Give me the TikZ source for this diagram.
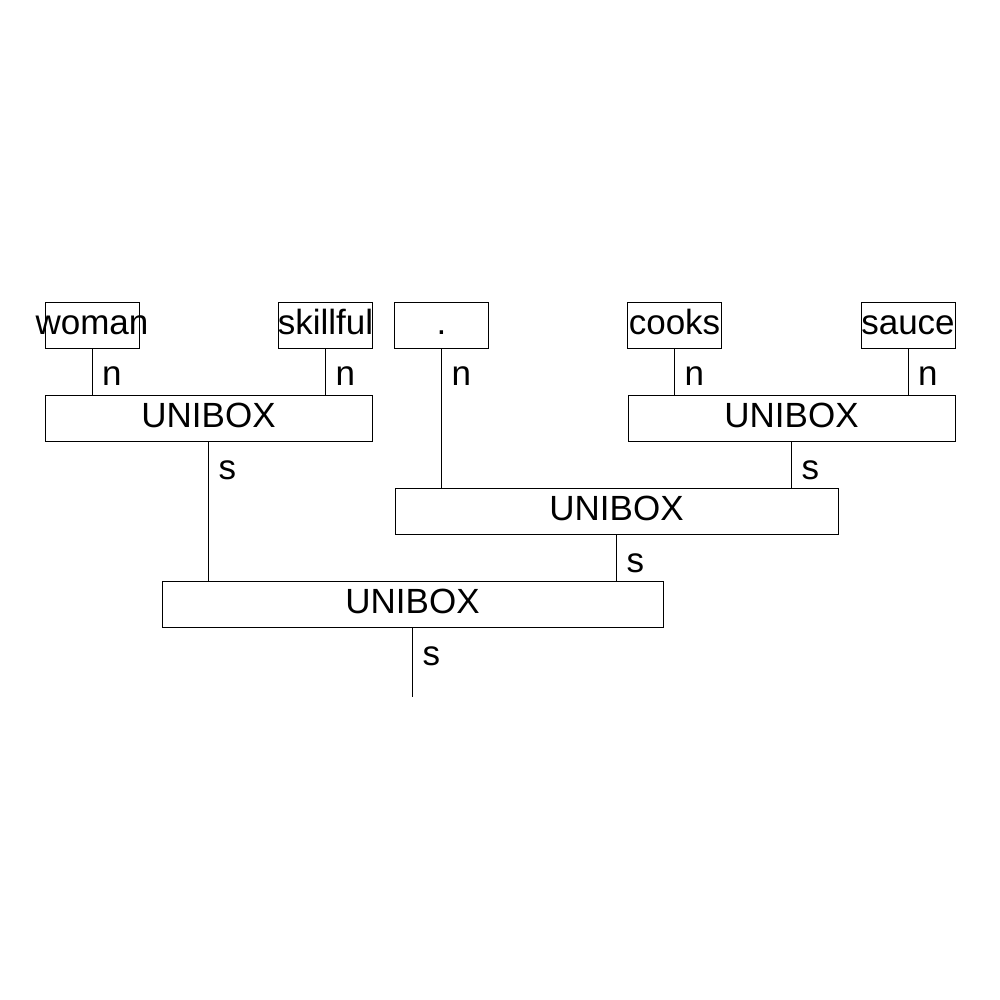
\documentclass[tikz,border=0pt]{standalone}
\usepackage{fontspec}
\setmainfont{Liberation Sans}
\usetikzlibrary{calc}
% word boxes keep their size; long words run over the frame
\newcommand{\wordtext}[1]{\makebox[0pt][c]{#1}}
\begin{document}
\begin{tikzpicture}[x=0.5pt,y=-0.5pt,line width=0.5pt,
  every node/.style={font=\fontsize{17.5}{21}\selectfont, inner sep=0pt},
  word/.style={draw, minimum width=47pt, minimum height=23pt,
               text height=9pt, text depth=0pt},
  unibox/.style={draw, minimum height=23pt, text height=9pt, text depth=0pt},
  edgelabel/.style={anchor=base west}]
  \useasboundingbox (0,0) rectangle (1000,1000);

  % leaf words
  \node[word] (woman)    at (92,325)    {\wordtext{woman}};
  \node[word] (skillful) at (325.5,325) {\wordtext{skillful}};
  \node[word] (dot)      at (441.5,325) {\wordtext{.}};
  \node[word] (cooks)    at (674.5,325) {\wordtext{cooks}};
  \node[word] (sauce)    at (908,325)   {\wordtext{sauce}};

  % combining boxes
  \node[unibox, minimum width=163.5pt] (u1) at (208.5,418.5) {UNIBOX};
  \node[unibox, minimum width=163.5pt] (u2) at (791.5,418.5) {UNIBOX};
  \node[unibox, minimum width=221.5pt] (u3) at (616.5,511.5) {UNIBOX};
  \node[unibox, minimum width=250.5pt] (u4) at (412.5,604.5) {UNIBOX};
  \coordinate (root) at (412.5,697);

  % connectors
  \draw (woman.south)    -- (woman.south |- u1.north);
  \draw (skillful.south) -- (skillful.south |- u1.north);
  \draw (cooks.south)    -- (cooks.south |- u2.north);
  \draw (sauce.south)    -- (sauce.south |- u2.north);
  \draw (dot.south)      -- (dot.south |- u3.north);
  \draw (u2.south)       -- (u2.south |- u3.north);
  \draw (u1.south)       -- (u1.south |- u4.north);
  \draw (u3.south)       -- (u3.south |- u4.north);
  \draw (u4.south)       -- (root);

  % category labels
  \node[edgelabel] (lwoman)    at ($(woman.south)+(9.5,37)$)    {n};
  \node[edgelabel] (lskillful) at ($(skillful.south)+(9.5,37)$) {n};
  \node[edgelabel] (ldot)      at ($(dot.south)+(9.5,37)$)      {n};
  \node[edgelabel] (lcooks)    at ($(cooks.south)+(9.5,37)$)    {n};
  \node[edgelabel] (lsauce)    at ($(sauce.south)+(9.5,37)$)    {n};
  \node[edgelabel] (lu1)       at ($(u1.south)+(9.5,37)$)       {s};
  \node[edgelabel] (lu2)       at ($(u2.south)+(9.5,37)$)       {s};
  \node[edgelabel] (lu3)       at ($(u3.south)+(9.5,37)$)       {s};
  \node[edgelabel] (lu4)       at ($(u4.south)+(9.5,37)$)       {s};
\end{tikzpicture}
\end{document}
